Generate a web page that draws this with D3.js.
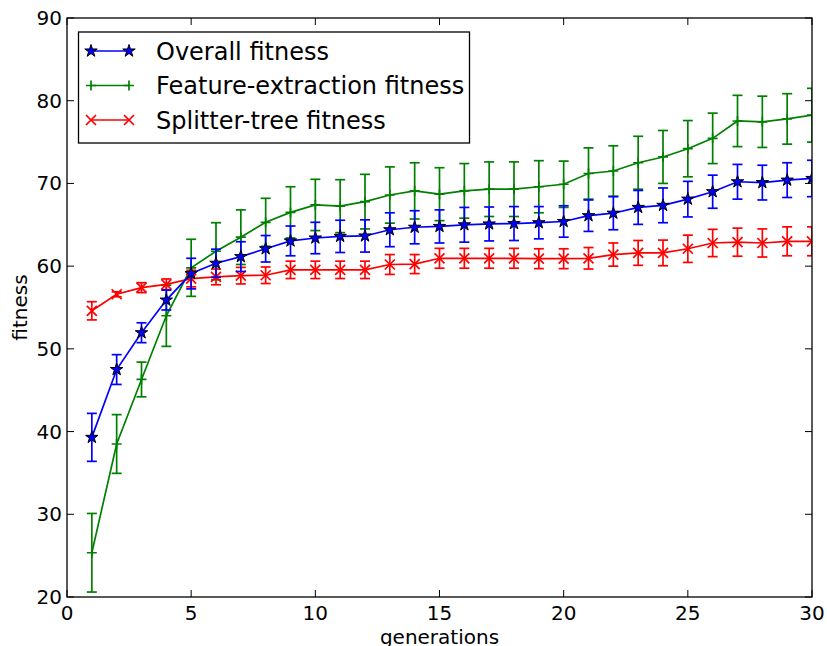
<!DOCTYPE html>
<html>
<head>
<meta charset="utf-8">
<script src="https://cdn.jsdelivr.net/npm/d3@7"></script>
<style>
  html, body { margin: 0; padding: 0; background: #fff; }
  svg { display: block; }
  text { font-family: "DejaVu Sans", sans-serif; fill: #000; }
</style>
</head>
<body>
<svg id="chart" width="827" height="646"></svg>
<script>
const generations = d3.range(1, 31);
const overall = [39.3, 47.5, 51.95, 55.9, 59.1, 60.35, 61.15, 62.1, 63.05, 63.4, 63.6, 63.65, 64.4, 64.7, 64.8, 65.0, 65.1, 65.15, 65.25, 65.4, 66.1, 66.4, 67.1, 67.35, 68.1, 69.0, 70.2, 70.1, 70.4, 70.6];
const overallErr = [2.9, 1.8, 1.2, 1.2, 1.85, 1.7, 1.8, 1.6, 1.8, 1.9, 1.95, 1.95, 2.05, 2.0, 2.0, 2.1, 2.05, 2.05, 1.95, 1.9, 1.9, 2.0, 2.05, 2.1, 2.15, 2.0, 2.1, 2.1, 2.1, 2.2];
const feature = [25.35, 38.5, 46.3, 54.0, 59.8, 61.8, 63.5, 65.3, 66.5, 67.4, 67.25, 67.8, 68.6, 69.1, 68.7, 69.1, 69.3, 69.3, 69.6, 69.9, 71.2, 71.5, 72.5, 73.2, 74.2, 75.45, 77.55, 77.45, 77.8, 78.25];
const featureErr = [4.75, 3.55, 2.1, 3.7, 3.45, 3.45, 3.3, 2.9, 3.1, 3.1, 3.2, 3.3, 3.4, 3.4, 3.2, 3.3, 3.3, 3.3, 3.15, 2.8, 3.1, 3.05, 3.2, 3.2, 3.4, 3.05, 3.1, 3.1, 3.05, 3.25];
const splitter = [54.6, 56.6, 57.4, 57.8, 58.5, 58.7, 58.85, 58.9, 59.55, 59.55, 59.55, 59.55, 60.2, 60.25, 60.95, 60.95, 60.95, 60.95, 60.9, 60.9, 60.95, 61.4, 61.6, 61.6, 62.1, 62.8, 62.9, 62.8, 63.0, 63.0];
const splitterErr = [1.1, 0.3, 0.6, 0.65, 1.0, 0.95, 1.0, 1.0, 1.05, 1.05, 1.05, 1.05, 1.2, 1.15, 1.2, 1.2, 1.2, 1.2, 1.2, 1.2, 1.3, 1.4, 1.5, 1.55, 1.65, 1.65, 1.7, 1.7, 1.75, 1.75];
const xTicks = [0, 5, 10, 15, 20, 25, 30];
const yTicks = [20, 30, 40, 50, 60, 70, 80, 90];
const seriesNames = ["Overall fitness", "Feature-extraction fitness", "Splitter-tree fitness"];
const xLabel = "generations";
const yLabel = "fitness";

const mLeft = 67, mRight = 812, mTop = 18, mBottom = 597;
const svg = d3.select("#chart");
const x = d3.scaleLinear().domain([0, 30]).range([mLeft, mRight]);
const y = d3.scaleLinear().domain([20, 90]).range([mBottom, mTop]);

const series = [
  { name: seriesNames[1], vals: feature, err: featureErr, color: "#008000", marker: "plus" },
  { name: seriesNames[2], vals: splitter, err: splitterErr, color: "#ff0000", marker: "x" },
  { name: seriesNames[0], vals: overall, err: overallErr, color: "#0000ff", marker: "star" }
];

const lw = 1.7, cap = 5;
const line = d3.line().x((d, i) => x(generations[i])).y(d => y(d));
const star = d3.symbol().type(d3.symbolStar).size(48);

function drawMarker(g, type, cx, cy, color) {
  if (type === "star") {
    g.append("path").attr("d", star()).attr("transform", `translate(${cx},${cy})`)
      .attr("fill", color).attr("stroke", "#000").attr("stroke-width", 1);
  } else if (type === "x") {
    const s = 5;
    g.append("path").attr("d", `M${cx - s},${cy - s}L${cx + s},${cy + s}M${cx - s},${cy + s}L${cx + s},${cy - s}`)
      .attr("stroke", color).attr("stroke-width", lw).attr("fill", "none");
  } else {
    const s = 5;
    g.append("path").attr("d", `M${cx - s},${cy}L${cx + s},${cy}M${cx},${cy - s}L${cx},${cy + s}`)
      .attr("stroke", color).attr("stroke-width", lw).attr("fill", "none");
  }
}

const plot = svg.append("g");
plot.append("defs").append("clipPath").attr("id", "clip")
  .append("rect").attr("x", mLeft).attr("y", mTop).attr("width", mRight - mLeft).attr("height", mBottom - mTop);

series.forEach(s => {
  const g = plot.append("g").attr("clip-path", "url(#clip)");
  s.vals.forEach((v, i) => {
    const cx = x(generations[i]);
    const y1 = y(v + s.err[i]), y0 = y(v - s.err[i]);
    g.append("line").attr("x1", cx).attr("x2", cx).attr("y1", y1).attr("y2", y0)
      .attr("stroke", s.color).attr("stroke-width", lw);
    [y1, y0].forEach(cy => g.append("line").attr("x1", cx - cap).attr("x2", cx + cap)
      .attr("y1", cy).attr("y2", cy).attr("stroke", s.color).attr("stroke-width", lw));
  });
  g.append("path").attr("d", line(s.vals)).attr("fill", "none")
    .attr("stroke", s.color).attr("stroke-width", lw);
  s.vals.forEach((v, i) => drawMarker(g, s.marker, x(generations[i]), y(v), s.color));
});

// frame
svg.append("rect").attr("x", mLeft).attr("y", mTop).attr("width", mRight - mLeft).attr("height", mBottom - mTop)
  .attr("fill", "none").attr("stroke", "#000").attr("stroke-width", 1.3);

// ticks (inward, all sides)
const tl = 7;
xTicks.forEach(t => {
  const px = x(t);
  svg.append("line").attr("x1", px).attr("x2", px).attr("y1", mBottom).attr("y2", mBottom - tl).attr("stroke", "#000").attr("stroke-width", 1);
  svg.append("line").attr("x1", px).attr("x2", px).attr("y1", mTop).attr("y2", mTop + tl).attr("stroke", "#000").attr("stroke-width", 1);
  svg.append("text").attr("x", px).attr("y", 619.5).attr("text-anchor", "middle").attr("font-size", 20).text(t);
});
yTicks.forEach(t => {
  const py = y(t);
  svg.append("line").attr("x1", mLeft).attr("x2", mLeft + tl).attr("y1", py).attr("y2", py).attr("stroke", "#000").attr("stroke-width", 1);
  svg.append("line").attr("x1", mRight).attr("x2", mRight - tl).attr("y1", py).attr("y2", py).attr("stroke", "#000").attr("stroke-width", 1);
  svg.append("text").attr("x", mLeft - 5).attr("y", py + 7).attr("text-anchor", "end").attr("font-size", 20).text(t);
});

svg.append("text").attr("x", (mLeft + mRight) / 2).attr("y", 644).attr("text-anchor", "middle").attr("font-size", 20).text(xLabel);
svg.append("text").attr("transform", `translate(27,${(mTop + mBottom) / 2}) rotate(-90)`).attr("text-anchor", "middle").attr("font-size", 20).text(yLabel);

// legend
const lg = svg.append("g");
lg.append("rect").attr("x", 78.5).attr("y", 32).attr("width", 391).attr("height", 111)
  .attr("fill", "#fff").attr("stroke", "#000").attr("stroke-width", 1.3);
const legendItems = [series[2], series[0], series[1]];
legendItems.forEach((s, i) => {
  const cy = 51 + i * 34.5;
  lg.append("line").attr("x1", 91).attr("x2", 129).attr("y1", cy).attr("y2", cy)
    .attr("stroke", s.color).attr("stroke-width", lw);
  drawMarker(lg, s.marker, 91, cy, s.color);
  drawMarker(lg, s.marker, 129, cy, s.color);
  lg.append("text").attr("x", 156).attr("y", cy + 8.5).attr("font-size", 24).text(s.name);
});
</script>
</body>
</html>
